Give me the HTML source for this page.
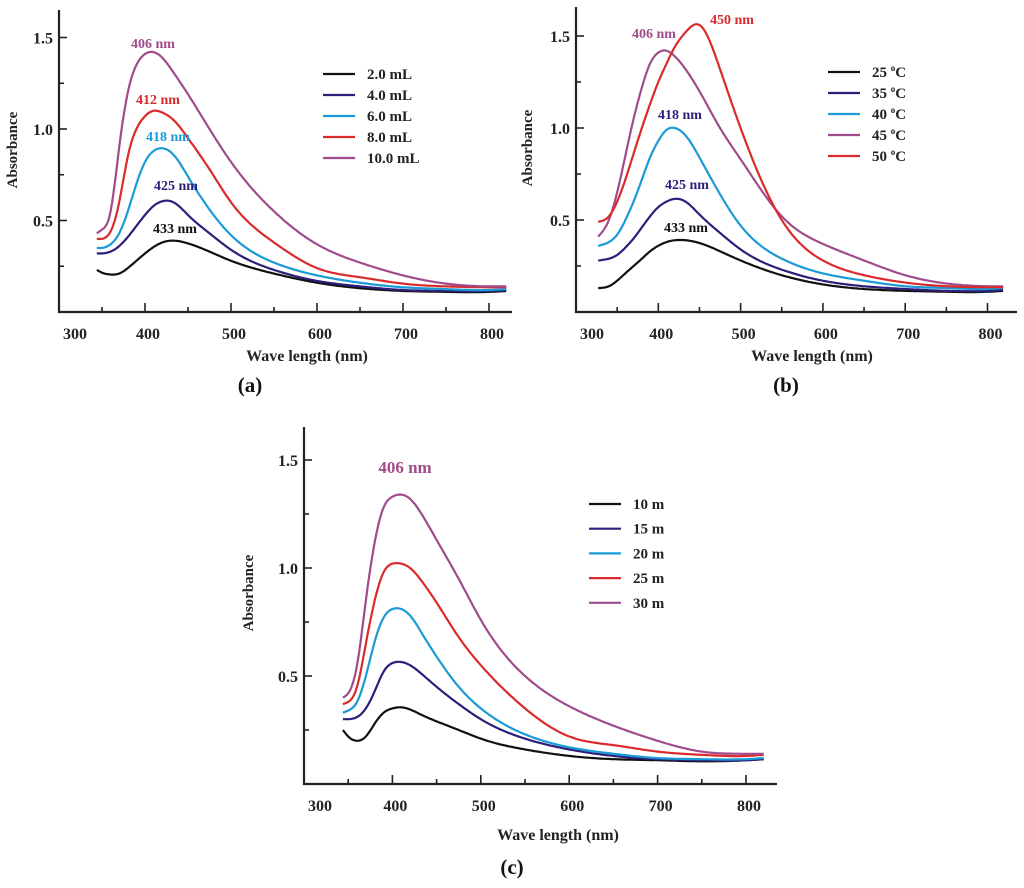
<!DOCTYPE html>
<html><head><meta charset="utf-8"><style>
body{margin:0;background:#fff}
svg{display:block}
text{font-family:"Liberation Serif",serif;font-weight:bold}
</style></head><body>
<svg id="fig" width="1024" height="888" viewBox="0 0 1024 888" xmlns="http://www.w3.org/2000/svg"></svg>
<script>
const BLACK='#111111', NAVY='#2b1f7a', CYAN='#1a9ad6', RED='#d92b2b', PURPLE='#a04c8c';
// Panel (a)
const wlA = [344,350,360,370,380,390,400,410,420,433,450,475,500,550,600,650,700,750,800,820];
const a_2mL = [.23,.215,.205,.21,.24,.28,.32,.355,.38,.39,.375,.33,.28,.21,.16,.13,.115,.11,.11,.115];
const a_4mL = [.32,.32,.33,.36,.41,.47,.53,.58,.605,.60,.53,.43,.34,.23,.17,.14,.12,.115,.115,.12];
const a_6mL = [.35,.35,.37,.43,.55,.70,.82,.88,.895,.86,.74,.56,.42,.27,.20,.16,.135,.125,.12,.125];
const a_8mL = [.40,.40,.44,.60,.85,1.0,1.07,1.10,1.09,1.05,.95,.78,.60,.38,.24,.19,.155,.14,.135,.135];
const a_10mL = [.43,.45,.55,.90,1.2,1.35,1.41,1.42,1.39,1.31,1.19,1.0,.82,.55,.37,.27,.20,.155,.14,.14];
const legendA = ['2.0 mL','4.0 mL','6.0 mL','8.0 mL','10.0 mL'];
// Panel (b)
const wlB = [327,340,350,360,370,380,390,400,410,420,433,450,475,500,550,600,650,700,750,800,820];
const b_25 = [.13,.14,.17,.21,.25,.29,.33,.36,.38,.39,.39,.375,.33,.28,.20,.15,.125,.115,.11,.11,.115];
const b_35 = [.28,.29,.31,.35,.40,.46,.52,.57,.60,.615,.60,.53,.43,.34,.23,.17,.14,.125,.115,.115,.12];
const b_40 = [.36,.38,.42,.50,.60,.72,.84,.93,.99,1.0,.96,.84,.64,.47,.29,.21,.17,.14,.13,.125,.13];
const b_45 = [.41,.50,.65,.85,1.05,1.22,1.35,1.41,1.42,1.39,1.32,1.2,1.0,.83,.52,.37,.28,.20,.155,.14,.14];
const b_50 = [.49,.52,.60,.72,.86,1.0,1.13,1.25,1.35,1.44,1.52,1.56,1.32,1.0,.50,.28,.20,.16,.14,.135,.135];
const legendB = ['25 ','35 ','40 ','45 ','50 '];
// Panel (c)
const wlC = [344,350,360,370,380,390,400,410,420,433,450,475,500,550,600,650,700,750,800,820];
const c_10 = [.25,.22,.20,.22,.28,.33,.35,.355,.345,.32,.29,.25,.21,.16,.13,.115,.11,.105,.11,.115];
const c_15 = [.30,.30,.31,.35,.43,.52,.56,.565,.55,.51,.45,.37,.30,.21,.16,.13,.115,.11,.11,.115];
const c_20 = [.33,.34,.38,.50,.66,.77,.81,.81,.78,.70,.59,.45,.35,.23,.17,.14,.12,.115,.115,.12];
const c_25 = [.37,.38,.45,.65,.85,.98,1.02,1.02,1.0,.94,.84,.68,.55,.35,.22,.18,.15,.135,.13,.135];
const c_30 = [.40,.42,.55,.85,1.12,1.28,1.33,1.34,1.32,1.25,1.13,.95,.76,.50,.36,.27,.20,.15,.14,.14];
const legendC = ['10 m','15 m','20 m','25 m','30 m'];
const xTicks = [300,400,500,600,700,800];
const yTicks = [0.5,1.0,1.5];

const svg = document.getElementById('fig');
const NS = 'http://www.w3.org/2000/svg';
function mk(tag, attrs, parent){const e=document.createElementNS(NS,tag);for(const k in attrs)e.setAttribute(k,attrs[k]);(parent||svg).appendChild(e);return e;}
function spline(xs, ys){
  const n=xs.length, h=[], al=[], l=[1], mu=[0], z=[0], c=new Array(n).fill(0), b=[], d=[];
  for(let i=0;i<n-1;i++) h.push(xs[i+1]-xs[i]);
  for(let i=1;i<n-1;i++) al[i]=3/h[i]*(ys[i+1]-ys[i])-3/h[i-1]*(ys[i]-ys[i-1]);
  for(let i=1;i<n-1;i++){l[i]=2*(xs[i+1]-xs[i-1])-h[i-1]*mu[i-1];mu[i]=h[i]/l[i];z[i]=(al[i]-h[i-1]*z[i-1])/l[i];}
  l[n-1]=1;z[n-1]=0;
  for(let j=n-2;j>=0;j--){c[j]=z[j]-mu[j]*c[j+1];b[j]=(ys[j+1]-ys[j])/h[j]-h[j]*(c[j+1]+2*c[j])/3;d[j]=(c[j+1]-c[j])/(3*h[j]);}
  return x=>{let j=0;while(j<n-2&&x>xs[j+1])j++;const t=x-xs[j];return ys[j]+b[j]*t+c[j]*t*t+d[j]*t*t*t;};
}

function panel(P){
  const g = mk('g',{});
  
  
  const X = v => P.x0 + (v-300)*P.kx;
  const Y = v => P.y0 - v*P.ky;
  const ax = mk('path',{d:`M${P.x0},${P.top} V${P.y0} H${P.xEnd}`,stroke:'#222',fill:'none','stroke-width':2.2},g);
  
  
  for(let v=350; v<=800; v+=50){
    const major = v%100===0;
    mk('line',{x1:X(v),x2:X(v),y1:P.y0,y2:P.y0-(major?9:5),stroke:'#222','stroke-width':1.6},g);
  }
  xTicks.forEach(v=>{
    const t = mk('text',{x:X(v)+(v===300?16:3),y:P.y0+27,'text-anchor':'middle','font-size':16,fill:'#222'},g);
    t.textContent = v;
    
    
  });
  for(let v=0.25; v<1.6; v+=0.25){
    const major = Math.abs(v*2-Math.round(v*2))<1e-6;
    mk('line',{x1:P.x0,x2:P.x0+(major?8:5),y1:Y(v),y2:Y(v),stroke:'#222','stroke-width':1.6},g);
  }
  yTicks.forEach(v=>{
    const t = mk('text',{x:P.x0-6,y:Y(v)+6,'text-anchor':'end','font-size':16,fill:'#222'},g);
    t.textContent = v.toFixed(1);
    
    
  });
  const yl = mk('text',{x:0,y:0,transform:`translate(${P.ylx},${P.yly}) rotate(-90)`,'text-anchor':'middle','font-size':15,fill:'#222'},g);
  yl.textContent='Absorbance';
  
  
  const xl = mk('text',{x:P.xlx,y:P.xly,'text-anchor':'middle','font-size':16,fill:'#222'},g);
  xl.textContent='Wave length (nm)';
  
  
  const pl = mk('text',{x:P.plx,y:P.ply,'text-anchor':'middle','font-size':21,fill:'#111'},g);
  pl.textContent='('+P.id+')';
  
  
  P.series.forEach((s,i)=>{
    const f = spline(P.wl, s);
    const w0 = P.wl[0], w1 = P.wl[P.wl.length-1];
    let d = '';
    for(let w=w0; w<=w1; w+=2){ d += (d?' L':'M') + X(w).toFixed(1)+','+Y(f(w)).toFixed(1); }
    const p = mk('path',{d:d,fill:'none',stroke:P.colors[i],'stroke-width':2.2,'stroke-linejoin':'round'},g);
    
    
  });
  P.legend.forEach((l,i)=>{
    const y = P.lgy + i*P.lgdy;
    const ln = mk('line',{x1:P.lgx,x2:P.lgx+32,y1:y,y2:y,stroke:P.colors[i],'stroke-width':2.2},g);
    
    
    const t = mk('text',{x:P.lgx+44,y:y+5,'font-size':15,fill:'#222'},g);
    
    
    if(P.deg){t.textContent=l;const ts=mk('tspan',{dy:-6,'font-size':9},t);ts.textContent='o';const ts2=mk('tspan',{dy:6},t);ts2.textContent='C';}
    else t.textContent=l;
  });
  P.peaks.forEach(pk=>{
    const t = mk('text',{x:pk[0],y:pk[1],'text-anchor':'middle','font-size':pk[3]||14,fill:pk[2]},g);
    t.textContent = pk[4];
    
    
  });
}

panel({id:'a',x0:59,y0:312,top:10,xEnd:512,kx:0.86,ky:183,wl:wlA,colors:[BLACK,NAVY,CYAN,RED,PURPLE],
  series:[a_2mL,a_4mL,a_6mL,a_8mL,a_10mL],legend:legendA,lgx:323,lgy:74,lgdy:21,
  ylx:17,yly:150,xlx:307,xly:361,plx:250,ply:392,
  peaks:[[153,48,PURPLE,14,'406 nm'],[158,104,RED,14,'412 nm'],[168,141,CYAN,14,'418 nm'],[176,190,NAVY,14,'425 nm'],[175,233,BLACK,14,'433 nm']]});
panel({id:'b',x0:576,y0:312,top:7,xEnd:1017,kx:0.823,ky:184,wl:wlB,colors:[BLACK,NAVY,CYAN,PURPLE,RED],
  series:[b_25,b_35,b_40,b_45,b_50],legend:legendB,deg:true,lgx:828,lgy:72,lgdy:21,
  ylx:532,yly:148,xlx:812,xly:361,plx:786,ply:392,
  peaks:[[732,24,RED,14,'450 nm'],[654,38,PURPLE,14,'406 nm'],[680,119,NAVY,14,'418 nm'],[687,189,NAVY,14,'425 nm'],[686,232,BLACK,14,'433 nm']]});
panel({id:'c',x0:304,y0:784,top:427,xEnd:777,kx:0.884,ky:216,wl:wlC,colors:[BLACK,NAVY,CYAN,RED,PURPLE],
  series:[c_10,c_15,c_20,c_25,c_30],legend:legendC,lgx:589,lgy:504,lgdy:24.7,
  ylx:253,yly:593,xlx:558,xly:840,plx:512,ply:874,
  peaks:[[405,473,PURPLE,17,'406 nm']]});
</script>
</body></html>
